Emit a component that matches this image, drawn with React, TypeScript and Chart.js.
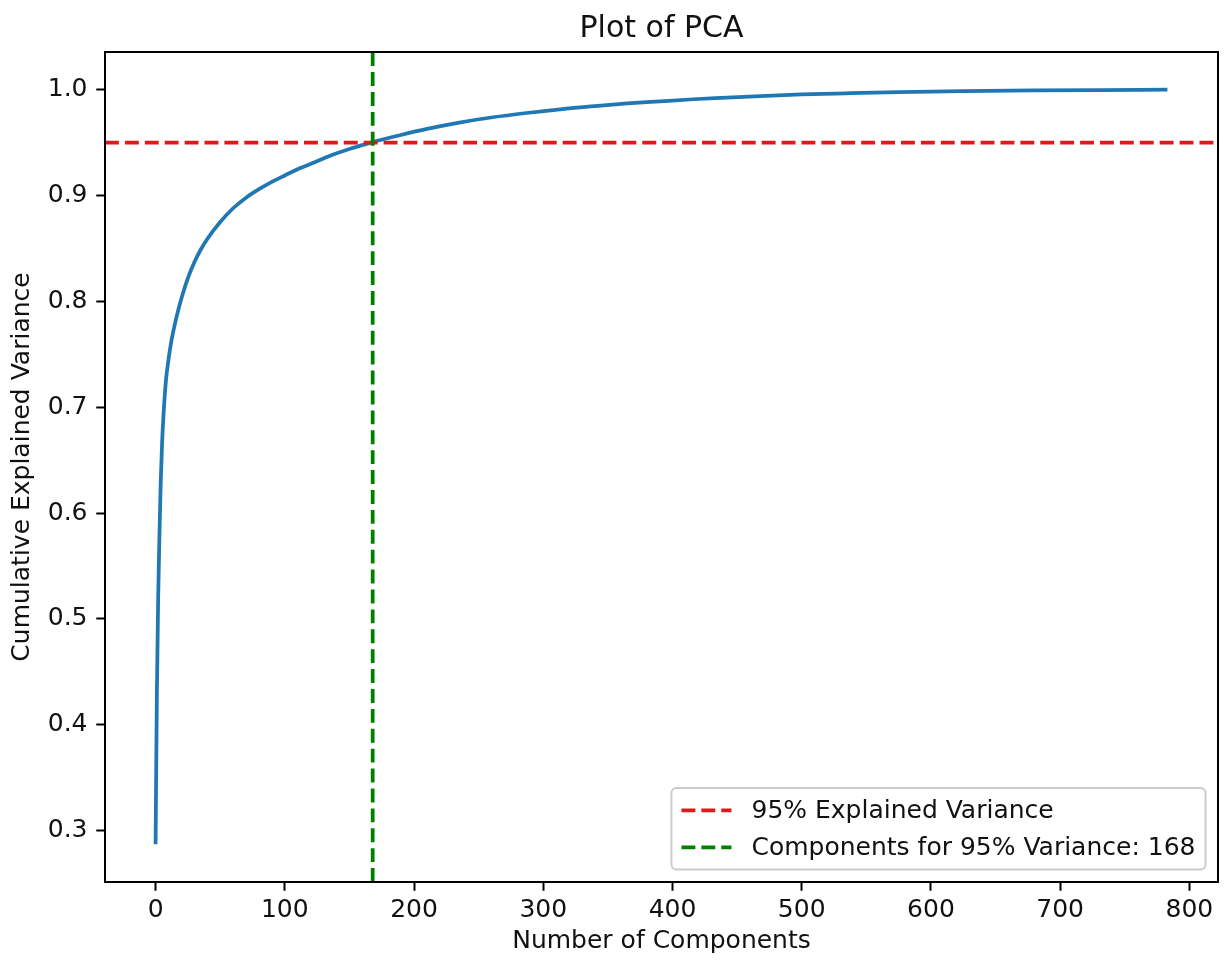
import { useEffect, useRef } from "react";
import { Chart, registerables } from "chart.js";

Chart.register(...registerables);

// Cumulative explained variance of the PCA components
const components = [
  0, 1, 2, 3, 4, 5, 6, 8, 10, 12, 15, 18, 21, 25, 30, 35, 40, 50, 60, 70, 80, 90,
  100, 112, 125, 137, 150, 168, 189, 210, 235, 261, 287, 313, 340, 365, 390, 416,
  442, 468, 500, 537, 575, 625, 680, 730, 783,
];
const cumulativeVariance = [
  0.287, 0.43, 0.52, 0.58, 0.63, 0.665, 0.69, 0.725, 0.745, 0.761, 0.779, 0.794, 0.807,
  0.822, 0.837, 0.849, 0.859, 0.875, 0.888, 0.898, 0.906, 0.913, 0.919, 0.926, 0.9325,
  0.9385, 0.944, 0.9505, 0.957, 0.963, 0.969, 0.974, 0.978, 0.9815, 0.9845, 0.987,
  0.989, 0.991, 0.9925, 0.994, 0.9955, 0.9967, 0.9977, 0.9986, 0.9993, 0.9997, 1.0,
];

const varianceThreshold = 0.95;
const componentsAt95 = 168;

const xTickValues = [0, 100, 200, 300, 400, 500, 600, 700, 800];
const yTickValues = [0.3, 0.4, 0.5, 0.6, 0.7, 0.8, 0.9, 1.0];

const FONT = '"DejaVu Sans", "Liberation Sans", sans-serif';
const TEXT_COLOR = "#111111";

// axis limits with a 5% margin around the curve
const xMin = components[0];
const xMax = components[components.length - 1];
const yMin = Math.min(...cumulativeVariance);
const yMax = Math.max(...cumulativeVariance);
const xPad = (xMax - xMin) * 0.05;
const yPad = (yMax - yMin) * 0.05;
const xLimits = [xMin - xPad, xMax + xPad];
const yLimits = [yMin - yPad, yMax + yPad];

// full box around the plotting area
const framePlugin = {
  id: "axesFrame",
  afterDatasetsDraw(chart: any) {
    const { ctx, chartArea } = chart;
    ctx.save();
    ctx.strokeStyle = "#000";
    ctx.lineWidth = 2;
    ctx.strokeRect(
      chartArea.left,
      chartArea.top,
      chartArea.right - chartArea.left,
      chartArea.bottom - chartArea.top
    );
    ctx.restore();
  },
};

// legend in the lower-right corner of the plotting area
const cornerLegendPlugin = {
  id: "cornerLegend",
  afterDraw(chart: any) {
    const { ctx, chartArea } = chart;
    const items = chart.data.datasets.filter((d: any) => d.label);
    const fs = 25;
    const pad = 0.4 * fs;
    const handleLen = 2 * fs;
    const handlePad = 0.8 * fs;
    const rowH = 24.5;
    const spacing = 0.5 * fs;
    const axPad = 0.5 * fs;
    ctx.save();
    ctx.font = `${fs}px ${FONT}`;
    const textW = Math.max(...items.map((d: any) => ctx.measureText(d.label).width));
    const w = pad * 2 + handleLen + handlePad + textW;
    const h = pad * 2 + items.length * rowH + (items.length - 1) * spacing;
    const x = chartArea.right - axPad - w;
    const y = chartArea.bottom - axPad - h;
    ctx.beginPath();
    ctx.roundRect(x, y, w, h, 5);
    ctx.fillStyle = "rgba(255,255,255,0.8)";
    ctx.fill();
    ctx.strokeStyle = "#cccccc";
    ctx.lineWidth = 2;
    ctx.stroke();
    items.forEach((d: any, i: number) => {
      const cy = y + pad + rowH / 2 + i * (rowH + spacing);
      ctx.beginPath();
      ctx.setLineDash(d.borderDash || []);
      ctx.strokeStyle = d.borderColor;
      ctx.lineWidth = d.borderWidth;
      ctx.lineCap = "butt";
      ctx.moveTo(x + pad, cy);
      ctx.lineTo(x + pad + handleLen, cy);
      ctx.stroke();
      ctx.setLineDash([]);
      ctx.fillStyle = TEXT_COLOR;
      ctx.textBaseline = "middle";
      ctx.textAlign = "left";
      ctx.fillText(d.label, x + pad + handleLen + handlePad, cy + 1);
    });
    ctx.restore();
  },
};

export default function App() {
  const canvasRef = useRef<HTMLCanvasElement | null>(null);

  useEffect(() => {
    const canvas = canvasRef.current;
    if (!canvas) return;

    const curve = components.map((c, i) => ({ x: c, y: cumulativeVariance[i] }));

    const chart = new Chart(canvas, {
      type: "scatter",
      data: {
        datasets: [
          {
            data: curve,
            showLine: true,
            borderColor: "#1f77b4",
            borderWidth: 3.75,
            pointRadius: 0,
            cubicInterpolationMode: "monotone",
            order: 2,
          },
          {
            label: "95% Explained Variance",
            data: [
              { x: xLimits[0], y: varianceThreshold },
              { x: xLimits[1], y: varianceThreshold },
            ],
            showLine: true,
            borderColor: "#dd1a1a",
            borderWidth: 3.75,
            borderDash: [13.9, 6],
            pointRadius: 0,
            order: 1,
          },
          {
            label: `Components for 95% Variance: ${componentsAt95}`,
            data: [
              { x: componentsAt95, y: yLimits[0] },
              { x: componentsAt95, y: yLimits[1] },
            ],
            showLine: true,
            borderColor: "#008000",
            borderWidth: 3.75,
            borderDash: [13.9, 6],
            pointRadius: 0,
            order: 0,
          },
        ],
      } as any,
      options: {
        animation: false,
        responsive: false,
        devicePixelRatio: 1,
        layout: { padding: { top: 0, right: 10, bottom: 0, left: 0 } },
        plugins: {
          legend: { display: false },
          tooltip: { enabled: false },
          title: {
            display: true,
            text: "Plot of PCA",
            fullSize: false,
            color: TEXT_COLOR,
            font: { family: FONT, size: 30, weight: "normal", lineHeight: 1.2 },
            padding: { top: 11, bottom: 5 },
          },
        },
        scales: {
          x: {
            type: "linear",
            min: xLimits[0],
            max: xLimits[1],
            afterBuildTicks: (scale: any) => {
              scale.ticks = xTickValues.map((v) => ({ value: v }));
            },
            afterFit: (scale: any) => {
              scale.height = 78;
            },
            ticks: {
              color: TEXT_COLOR,
              font: { family: FONT, size: 25 },
              padding: 5,
              maxRotation: 0,
              autoSkip: false,
              callback: (v: any) => String(v),
            },
            grid: {
              drawOnChartArea: false,
              drawTicks: true,
              tickLength: 8.75,
              tickColor: "#000",
              tickWidth: 2,
            },
            border: { display: false },
            title: {
              display: true,
              text: "Number of Components",
              color: TEXT_COLOR,
              font: { family: FONT, size: 25 },
              padding: { top: 0, bottom: 4 },
            },
          },
          y: {
            type: "linear",
            min: yLimits[0],
            max: yLimits[1],
            afterBuildTicks: (scale: any) => {
              scale.ticks = yTickValues.map((v) => ({ value: v }));
            },
            afterFit: (scale: any) => {
              scale.width = 105;
            },
            ticks: {
              color: TEXT_COLOR,
              font: { family: FONT, size: 25 },
              padding: 8.75,
              autoSkip: false,
              callback: (v: any) => Number(v).toFixed(1),
            },
            grid: {
              drawOnChartArea: false,
              drawTicks: true,
              tickLength: 8.75,
              tickColor: "#000",
              tickWidth: 2,
            },
            border: { display: false },
            title: {
              display: true,
              text: "Cumulative Explained Variance",
              color: TEXT_COLOR,
              font: { family: FONT, size: 25 },
              padding: { top: 7, bottom: 0 },
            },
          },
        },
      } as any,
      plugins: [framePlugin, cornerLegendPlugin],
    });

    return () => chart.destroy();
  }, []);

  return (
    <div
      style={{
        position: "fixed",
        left: 0,
        top: 0,
        width: 1228,
        height: 960,
        background: "#ffffff",
      }}
    >
      <canvas ref={canvasRef} width={1228} height={960} />
    </div>
  );
}
